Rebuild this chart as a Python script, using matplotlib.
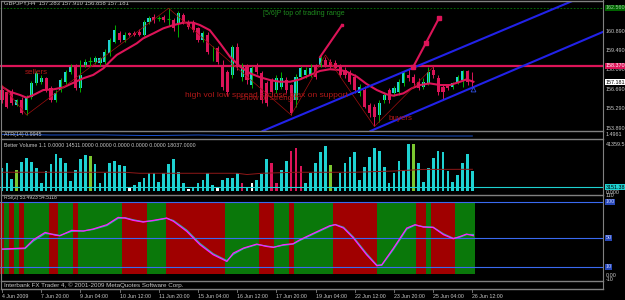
import matplotlib
matplotlib.use("Agg")
import matplotlib.pyplot as plt
import matplotlib.transforms as mtransforms
from matplotlib.lines import Line2D

plt.rcParams["font.family"] = ["Liberation Sans", "DejaVu Sans"]

# ---- GBPJPY H4 candles ----
opens = [156.63, 156.51, 156.51, 155.55, 155.91, 155.19, 156.15, 157.11, 157.23, 157.48,
         156.75, 155.91, 156.63, 157.23, 157.96, 158.32, 156.75, 158.44, 158.66, 158.68,
         158.56, 158.68, 159.28, 160.12, 160.72, 160.24, 160.72, 160.72, 160.84, 160.60,
         161.56, 161.92, 161.78, 161.92, 161.75, 161.68, 161.44, 162.04, 161.56, 161.56,
         161.08, 160.24, 160.60, 159.50, 159.64, 158.44, 157.96, 157.72, 159.76, 157.60,
         158.32, 156.99, 158.44, 157.84, 157.11, 157.35, 156.63, 156.87, 157.35, 156.99,
         155.91, 157.60, 157.72, 157.72, 158.32, 158.44, 158.80, 158.68, 158.56, 158.32,
         158.08, 157.96, 157.60, 156.39, 156.63, 155.55, 155.43, 154.83, 155.91, 156.63,
         156.39, 156.51, 157.11, 157.72, 157.60, 157.23, 156.87, 157.11, 158.08, 157.48,
         156.87, 156.99, 156.83, 157.23, 157.35, 158.00, 157.283]
highs = [156.87, 156.63, 156.70, 156.00, 156.10, 156.30, 157.30, 158.00, 157.70, 157.60,
         156.90, 156.60, 157.50, 158.10, 158.50, 158.50, 158.80, 158.90, 159.00, 159.10,
         159.00, 159.60, 160.40, 161.30, 160.90, 160.80, 160.85, 160.90, 161.00, 161.70,
         162.00, 162.10, 162.00, 162.05, 162.53, 161.80, 162.30, 162.20, 161.70, 161.70,
         161.20, 160.90, 160.80, 159.80, 159.80, 158.80, 158.10, 159.90, 160.00, 158.60,
         158.50, 158.40, 158.60, 158.00, 157.30, 157.50, 157.70, 157.90, 157.60, 157.10,
         157.80, 158.40, 158.30, 158.50, 158.50, 159.20, 159.00, 158.90, 158.80, 158.50,
         158.30, 158.10, 157.80, 157.10, 156.90, 155.70, 155.60, 155.90, 156.50, 156.80,
         156.90, 157.40, 158.00, 158.20, 157.80, 157.50, 157.50, 158.30, 158.40, 157.70,
         157.00, 157.10, 157.20, 157.70, 158.10, 158.10, 157.910]
lows = [155.67, 155.30, 155.55, 155.45, 154.90, 154.83, 156.00, 157.00, 157.10, 156.50,
        155.80, 155.80, 156.50, 157.10, 157.80, 156.60, 156.50, 158.30, 158.40, 158.50,
        158.40, 158.50, 159.10, 160.00, 160.10, 160.10, 160.50, 160.50, 160.50, 160.50,
        161.40, 161.50, 161.60, 161.55, 161.30, 160.90, 160.48, 161.40, 161.00, 160.80,
        160.10, 160.10, 159.20, 158.70, 158.50, 156.60, 156.20, 157.50, 158.10, 157.30,
        157.10, 156.80, 157.80, 155.70, 155.50, 156.30, 156.40, 156.70, 156.40, 154.83,
        155.43, 157.40, 157.50, 157.60, 157.40, 158.30, 158.30, 158.20, 158.10, 157.60,
        157.50, 157.10, 156.40, 156.20, 155.30, 154.70, 154.00, 154.30, 155.70, 155.70,
        156.20, 156.30, 156.90, 157.30, 156.90, 156.60, 156.70, 157.00, 157.50, 156.30,
        155.91, 156.60, 156.70, 157.10, 156.87, 157.00, 156.858]
closes = [155.91, 155.43, 155.67, 155.91, 154.95, 156.15, 157.11, 157.84, 157.48, 156.63,
          155.91, 156.39, 157.35, 157.96, 158.32, 156.75, 157.72, 158.68, 158.70, 158.92,
          158.92, 159.40, 160.24, 160.96, 160.24, 160.60, 160.60, 160.62, 160.60, 161.56,
          161.80, 161.68, 161.82, 161.68, 161.78, 161.08, 162.16, 161.56, 161.20, 160.96,
          160.24, 160.72, 159.40, 159.55, 158.68, 156.87, 156.51, 159.76, 158.32, 158.44,
          157.35, 158.20, 157.96, 155.91, 155.67, 156.51, 157.48, 157.48, 156.63, 154.95,
          157.60, 158.20, 158.08, 158.20, 157.60, 158.92, 158.44, 158.32, 158.20, 157.72,
          157.72, 157.23, 156.63, 156.87, 155.43, 154.95, 154.71, 155.67, 156.27, 155.91,
          156.75, 157.23, 157.84, 157.48, 157.11, 156.75, 157.23, 157.96, 157.72, 156.51,
          156.51, 156.75, 157.11, 157.55, 158.02, 157.23, 157.181]

# moving average line, read at points along it (bar position, price)
ma_bars = [0, 1.6, 3.7, 5.0, 6.4, 8.4, 10.5, 12.5, 14.6, 16.6, 18.6, 20.7, 22.0, 23.4, 25.4,
           27.5, 28.8, 30.9, 32.9, 35.0, 37.0, 39.0, 40.4, 42.4, 44.5, 46.5, 48.6, 50.6, 52.7,
           54.7, 56.7, 58.8, 60.8, 62.9, 64.9, 66.9, 69.0, 70.3, 72.4, 74.4, 76.5, 78.5, 79.9,
           81.9, 83.6, 85.3, 87.3, 89.4, 91.4, 93.5, 94.8, 96.2]
ma_vals = [156.87, 156.51, 156.27, 156.08, 156.27, 156.63, 156.68, 156.82, 157.16, 157.48,
           157.72, 158.20, 158.68, 159.16, 159.57, 160.00, 160.36, 160.72, 161.08, 161.32,
           161.49, 161.49, 161.32, 160.95, 160.00, 159.04, 158.32, 157.84, 157.55, 157.35,
           157.23, 157.23, 157.40, 157.72, 158.01, 158.13, 158.08, 157.96, 157.60, 157.07,
           156.63, 156.32, 156.22, 156.39, 156.75, 156.99, 157.11, 156.99, 156.99, 157.23,
           157.40, 157.23]

zigzag_bars = [0, 5, 34, 59, 66, 76, 88]
zigzag_vals = [156.99, 154.83, 162.53, 154.83, 159.16, 154.00, 158.29]

price_ticks = [153.89, 155.29, 156.69, 158.09, 159.49, 160.89]
range_top = 162.56
resistance = 158.37
last_price = 157.181

# blue channel lines, two anchor points each (bar, price)
upper_line = [(53.7, 153.75), (85.3, 158.44)]
lower_line = [(77.1, 153.96), (122.6, 160.82)]
# hand drawn arrows (bar, price)
arrow1_bars, arrow1_vals = [64.9, 69.4], [159.01, 161.32]
arrow2_bars, arrow2_vals = [83.9, 86.5, 89.2], [158.29, 160.02, 161.83]

# ---- Better Volume ----
volumes = [20500, 24400, 10300, 18500, 25300, 29300, 25300, 20500, 6800, 17600,
           23500, 32800, 29300, 24900, 8800, 18500, 28200, 31700, 30800, 24000,
           6800, 15600, 24900, 26400, 22900, 22000, 2400, 5300, 8200, 11200,
           16100, 15600, 8200, 16100, 23500, 27900, 17000, 7300, 1800, 3800,
           7300, 9700, 16100, 5300, 3300, 9700, 11700, 11700, 15600, 6800,
           3300, 6800, 9700, 14700, 27900, 24900, 6800, 18500, 26400, 35200,
           37600, 22300, 6800, 15600, 24400, 34100, 39600, 22900, 3800, 15600,
           24900, 29700, 34100, 9700, 20900, 29700, 38100, 35200, 21400, 7300,
           16100, 26700, 18500, 41359, 41100, 24900, 8200, 20000, 28800, 35200,
           34300, 17900, 8200, 14100, 24400, 32600, 18037]
vol_kinds = ("cccgccccccccccccccgccccccc" "wcccccccccccwcccccwccccrcw"
             "cccrrccrrrcccccgccccccccccccccccgccccccccccccc")
vol_avg_bars = [0, 25, 28, 48, 50, 53, 60, 72, 80, 86, 96]
vol_avg_vals = [16500, 16500, 15600, 15600, 14500, 15600, 16500, 16500, 17600, 19000, 19100]
vol_level = 3151.38
vol_max = 41359.5

atr_bars = [0, 10, 20, 30, 40, 50, 60, 70, 80, 90, 96]
atr_vals = [1.27, 1.20, 1.21, 1.15, 1.20, 1.14, 1.20, 1.18, 1.12, 1.10, 1.10]

# ---- RSI ----
rsi_bars = [0, 4.7, 6.4, 8.8, 10.8, 11.8, 14.2, 16.6, 18.6, 21.4, 23.7, 25.1, 26.8, 28.8,
            30.9, 33.6, 35.0, 37.7, 40.4, 43.1, 45.9, 47.2, 49.3, 52.0, 54.0, 55.4, 57.4,
            59.4, 60.8, 63.5, 66.9, 68.0, 69.7, 71.7, 74.4, 76.5, 77.5, 79.9, 82.6, 84.3,
            86.0, 88.0, 90.1, 92.1, 93.5, 94.8, 96.2]
rsi_main = [34.3, 35.7, 47.2, 57.4, 53.7, 52.8, 60.2, 59.3, 62.1, 68.1, 78.2, 77.3, 74.1, 71.8,
            74.1, 77.3, 72.7, 58.8, 40.3, 26.4, 17.1, 28.7, 35.7, 41.2, 37.9, 36.6, 40.3,
            41.7, 47.2, 56.0, 66.7, 68.1, 63.4, 49.6, 26.4, 11.1, 12.5, 35.7, 63.4, 68.1,
            64.8, 64.3, 54.2, 48.6, 51.8, 55.1, 52.8]
rsi_signal = [34.0, 35.0, 45.5, 56.0, 54.5, 53.0, 59.0, 59.5, 61.5, 67.0, 77.0, 77.8, 74.8, 72.3,
              73.5, 77.0, 73.8, 60.5, 42.0, 27.8, 18.2, 27.0, 35.0, 40.6, 38.5, 37.0, 39.6,
              41.2, 46.3, 55.0, 65.8, 68.4, 64.5, 51.0, 28.0, 12.0, 11.8, 34.0, 62.0, 67.6,
              65.4, 64.6, 55.4, 49.2, 51.0, 54.5, 54.5]
rsi_levels = [100, 50, 10]
rsi_bands = ("RGRGRGGGGGRRGGGRGGGGGGGGGRRRRRGGGGRRRRRRRRRRRRGGGGGGGRRRGGGR"
             "GGGGGGGGRRRRRRRRRGGGGGGGGRRGRRRRRGGGG")

time_labels = ["4 Jun 2009", "7 Jun 20:00", "9 Jun 04:00", "10 Jun 12:00", "11 Jun 20:00",
               "15 Jun 04:00", "16 Jun 12:00", "17 Jun 20:00", "19 Jun 04:00", "22 Jun 12:00",
               "23 Jun 20:00", "25 Jun 04:00", "26 Jun 12:00"]
time_label_bars = [0, 8, 16, 24, 32, 40, 48, 56, 64, 72, 80, 88, 96]

# ---- styling ----
CYAN = "#1ED2D2"
PINK = "#DC1458"
GREEN_WICK = "#00B000"
BLUE = "#2222E8"
TXT = "#C8C8C8"
NOTE = "#B01818"
FRAME = "#808080"
FS = 4.2      # MT4 style small text
FS_AX = 3.9   # right hand scale labels

W, H = 625, 300
PLOT_W = 603
XMIN, XMAX = -0.41, 122.65

fig = plt.figure(figsize=(W / 100, H / 100), dpi=100, facecolor="black")


def add_panel(top, bottom):
    ax = fig.add_axes([0, 1 - bottom / H, PLOT_W / W, (bottom - top) / H])
    ax.set_facecolor("black")
    ax.set_xlim(XMIN, XMAX)
    ax.set_xticks([])
    ax.set_yticks([])
    for s in ax.spines.values():
        s.set_visible(False)
    return ax


def right_label(ax, y, text, fc=None, color=TXT):
    trans = mtransforms.blended_transform_factory(ax.transAxes, ax.transData)
    kw = {}
    if fc is not None:
        kw["bbox"] = dict(boxstyle="square,pad=0.1", fc=fc, ec="none")
    ax.text(1.004, y, text, transform=trans, fontsize=FS_AX, color=color,
            va="center", ha="left", clip_on=False, **kw)


# price panel
ax = add_panel(1, 131)
ax.set_ylim(153.675, 163.055)
x = list(range(len(closes)))
ax.axhline(range_top, color="#008000", lw=0.6, ls=(0, (2, 2)))
ax.axhline(resistance, color=PINK, lw=1.6)
for i in x:
    up = closes[i] >= opens[i]
    ax.vlines(i, lows[i], highs[i], color=GREEN_WICK if up else PINK, lw=0.7)
    lo, hi = min(opens[i], closes[i]), max(opens[i], closes[i])
    if hi - lo < 0.05:
        ax.hlines(closes[i], i - 0.35, i + 0.35, color=GREEN_WICK, lw=0.8)
    else:
        ax.bar(i, hi - lo, bottom=lo, width=0.62, color=CYAN if up else PINK, lw=0)
ax.plot(ma_bars, ma_vals, color=PINK, lw=1.5)
ax.plot(zigzag_bars, zigzag_vals, color="#A01010", lw=0.5)
ax.axline(upper_line[0], upper_line[1], color=BLUE, lw=1.5)
ax.axline(lower_line[0], lower_line[1], color=BLUE, lw=1.5)
ax.plot(arrow1_bars, arrow1_vals, color=PINK, lw=1.5, marker="s", ms=2, markevery=[1])
ax.plot(arrow2_bars, arrow2_vals, color=PINK, lw=1.5, marker="s", ms=2.5)
ax.plot([96.2], [156.71], marker="^", ms=3.5, mfc="none", mec="#3050E0", mew=0.6)
ax.text(0.5, 162.95, "GBPJPY,H4  157.283 157.910 156.858 157.181", fontsize=FS,
        color=TXT, va="center")
ax.text(53.3, 162.12, "[5/6]P top of trading range", fontsize=FS + 0.8, color="#1E8C1E",
        va="center")
ax.text(4.7, 157.93, "sellers", fontsize=FS + 1.6, color=NOTE, va="center")
ax.text(37.3, 156.27, "high vol low spread = close max on support", fontsize=FS + 1.8,
        color=NOTE, va="center")
ax.text(48.5, 156.02, "show of strength", fontsize=FS + 1.6, color=NOTE, va="center")
ax.text(78.8, 154.61, "buyers", fontsize=FS + 1.6, color=NOTE, va="center")
for p in price_ticks:
    right_label(ax, p, f"{p:.3f}")
right_label(ax, range_top, f"{range_top:.3f}", fc="#006400", color="#A0D0A0")
right_label(ax, resistance, f"{resistance:.3f}", fc=PINK, color="white")
right_label(ax, last_price, f"{last_price:.3f}", fc="white", color="black")

# ATR panel
ax_atr = add_panel(131, 139)
ax_atr.set_ylim(0.8, 1.6)
ax_atr.plot(atr_bars, atr_vals, color="#2060F0", lw=0.6)
ax_atr.text(0.5, 1.3, "ATR(14) 0.9945", fontsize=FS - 0.4, color=TXT, va="center")
right_label(ax_atr, 1.2, "1.4961")

# volume panel
ax_v = add_panel(139, 194.5)
ax_v.set_ylim(-3080, 45760)
kind_color = {"c": CYAN, "g": "#7CC830", "r": PINK, "w": "white"}
ax_v.bar(x, volumes, width=0.55, color=[kind_color[k] for k in vol_kinds], lw=0)
ax_v.plot(vol_avg_bars, vol_avg_vals, color="#901818", lw=0.7)
ax_v.axhline(vol_level, color=CYAN, lw=0.8)
ax_v.text(0.5, 39700, "Better Volume 1.1 0.0000 14511.0000 0.0000 0.0000 0.0000 0.0000 18037.0000",
          fontsize=FS - 0.4, color=TXT, va="center")
right_label(ax_v, vol_max, f"{vol_max:.1f}")
right_label(ax_v, vol_level, f"{vol_level:.2f}", fc=CYAN, color="black")
right_label(ax_v, -900, "0.000")

# RSI panel
ax_r = add_panel(194.5, 281)
ax_r.set_ylim(-10, 110)
band_color = {"R": "#A00000", "G": "#0A780A"}
ax_r.bar(x, 100, bottom=0, width=1.0, color=[band_color[b] for b in rsi_bands], lw=0)
for lv in rsi_levels:
    ax_r.axhline(lv, color="#3A6AF0", lw=0.8)
ax_r.plot(rsi_bars, rsi_signal, color="#20C0B0", lw=0.9)
ax_r.plot(rsi_bars, rsi_main, color="#FF20FF", lw=0.9)
ax_r.text(0.5, 106, "RSI(2) 53.4923 54.5118", fontsize=FS - 0.6, color=TXT, va="center")
right_label(ax_r, 108, "110")
for lv in rsi_levels:
    right_label(ax_r, lv, str(lv), fc="#2848B8", color="#C8D0FF")
right_label(ax_r, -3, "0.00")
right_label(ax_r, -8, "-10")

# copyright strip
ax_c = add_panel(281, 289)
ax_c.set_ylim(0, 1)
ax_c.text(0.5, 0.5, "Interbank FX Trader 4, \u00a9 2001-2009 MetaQuotes Software Corp.",
          fontsize=FS + 0.3, color=TXT, va="center")

# time strip
ax_t = add_panel(289, 300)
ax_t.set_ylim(0, 1)
for b, lab in zip(time_label_bars, time_labels):
    ax_t.plot([b, b], [0.75, 1.0], color=FRAME, lw=0.6)
    ax_t.text(b, 0.35, lab, fontsize=FS - 0.4, color=TXT, va="center", ha="left")


# frame lines
def fig_line(x0, y0, x1, y1, lw=1.0):
    fig.add_artist(Line2D([x0 / W, x1 / W], [1 - y0 / H, 1 - y1 / H], color=FRAME, lw=lw))


for yy in [1, 131, 139, 194.5, 281, 289]:
    fig_line(1, yy, PLOT_W, yy, lw=1.0)
fig_line(1, 1, 1, 289, lw=0.8)
fig_line(PLOT_W, 0, PLOT_W, 289, lw=0.8)

fig.savefig("out.png", dpi=100, facecolor="black")
